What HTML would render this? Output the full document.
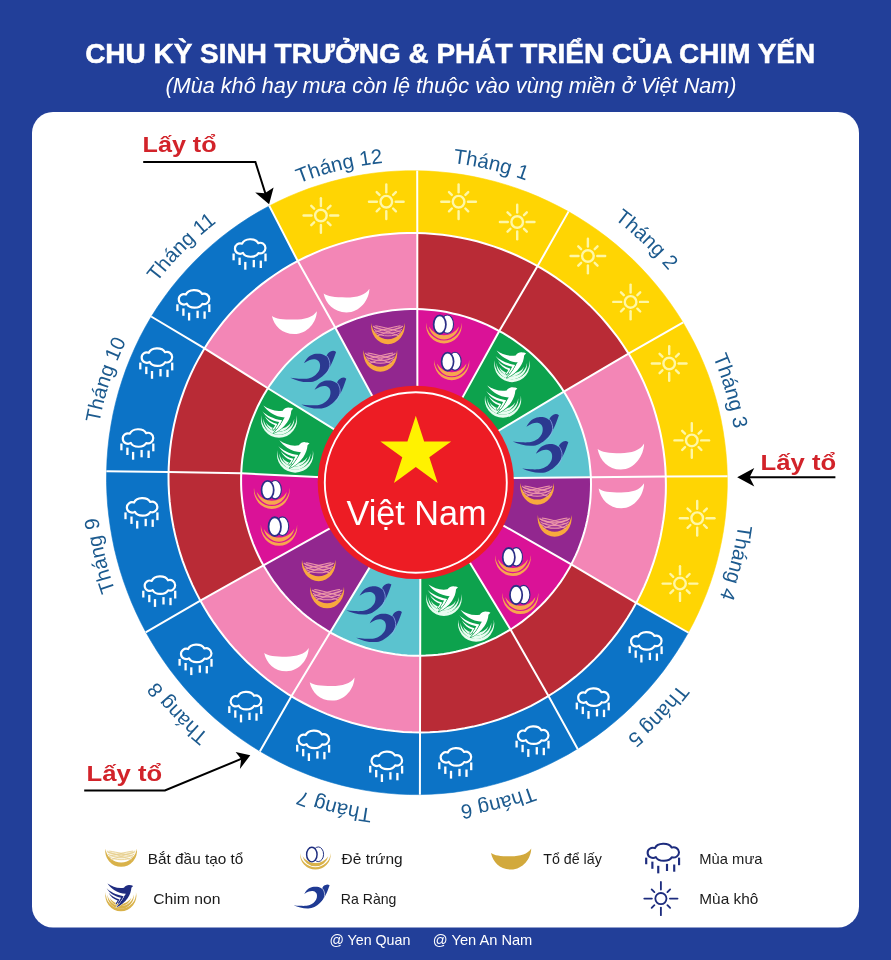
<!DOCTYPE html>
<html lang="vi"><head><meta charset="utf-8"><title>Chu kỳ sinh trưởng &amp; phát triển của chim yến</title>
<style>html,body{margin:0;padding:0;background:#223f99;}body{width:891px;height:960px;overflow:hidden;}svg{display:block;}</style>
</head><body>
<svg width="891" height="960" viewBox="0 0 891 960">
<rect width="891" height="960" fill="#223f99"/>
<rect x="32" y="112" width="827" height="815.5" rx="21" ry="21" fill="#ffffff"/>
<text x="85.2" y="63.3" font-family="'Liberation Sans', sans-serif" font-weight="700" font-size="27" fill="#fff" stroke="#fff" stroke-width="0.5" textLength="730" lengthAdjust="spacingAndGlyphs">CHU KỲ SINH TRƯỞNG &amp; PHÁT TRIỂN CỦA CHIM YẾN</text>
<text x="165.5" y="93" font-family="'Liberation Sans', sans-serif" font-style="italic" font-size="21.5" fill="#fff" textLength="571" lengthAdjust="spacingAndGlyphs">(Mùa khô hay mưa còn lệ thuộc vào vùng miền ở Việt Nam)</text>
<path d="M416.5,170.7 L427.4,171.1 L438.3,171.8 L449.2,172.8 L460.0,174.3 L470.8,176.1 L481.5,178.3 L492.1,180.8 L502.6,183.8 L513.0,187.0 L523.3,190.7 L533.5,194.6 L543.5,199.0 L553.3,203.6 L563.0,208.6 L572.5,214.0 L581.9,219.6 L591.0,225.6 L599.9,231.9 L608.6,238.4 L617.0,245.3 L625.2,252.5 L633.2,259.9 L640.9,267.7 L648.3,275.7 L655.4,283.9 L662.3,292.4 L668.8,301.1 L675.1,310.1 L681.0,319.2 L686.6,328.6 L691.8,338.1 L696.7,347.9 L701.3,357.8 L705.5,367.9 L709.4,378.1 L712.9,388.4 L716.0,398.9 L718.7,409.4 L721.1,420.1 L723.1,430.8 L724.7,441.6 L726.0,452.4 L726.8,463.3 L727.3,474.2 L727.3,485.1 L727.0,496.0 L726.3,506.9 L725.2,517.8 L723.8,528.6 L721.9,539.3 L719.7,550.0 L717.1,560.6 L714.2,571.1 L710.9,581.5 L707.2,591.7 L703.1,601.9 L698.8,611.9 L694.0,621.7 L689.0,631.3 L683.6,640.8 L677.9,650.1 L671.8,659.2 L665.5,668.0 L658.9,676.7 L651.9,685.1 L644.7,693.2 L637.2,701.2 L629.4,708.8 L621.4,716.2 L613.1,723.3 L604.6,730.1 L595.8,736.6 L586.8,742.8 L577.6,748.7 L568.2,754.3 L558.6,759.5 L548.8,764.4 L538.9,768.9 L528.8,773.1 L518.5,777.0 L508.2,780.4 L497.7,783.5 L487.1,786.3 L476.4,788.6 L465.6,790.6 L454.7,792.1 L443.9,793.3 L432.9,794.1 L422.0,794.5 L411.0,794.5 L400.1,794.2 L389.1,793.4 L378.2,792.2 L367.4,790.6 L356.6,788.7 L345.9,786.3 L335.3,783.6 L324.8,780.5 L314.5,777.0 L304.2,773.1 L294.1,768.9 L284.2,764.3 L274.4,759.4 L264.9,754.1 L255.5,748.5 L246.3,742.6 L237.4,736.3 L228.7,729.8 L220.2,722.9 L212.0,715.8 L204.0,708.4 L196.3,700.7 L188.9,692.7 L181.7,684.5 L174.9,676.1 L168.3,667.4 L162.0,658.5 L156.1,649.5 L150.5,640.2 L145.1,630.7 L140.1,621.1 L135.5,611.3 L131.1,601.3 L127.1,591.2 L123.5,581.0 L120.2,570.7 L117.2,560.2 L114.6,549.7 L112.4,539.1 L110.5,528.4 L109.0,517.6 L107.8,506.8 L107.0,496.0 L106.6,485.1 L106.5,474.2 L106.9,463.4 L107.6,452.5 L108.6,441.6 L110.1,430.8 L111.9,420.1 L114.1,409.4 L116.7,398.8 L119.6,388.2 L122.9,377.8 L126.6,367.5 L130.7,357.3 L135.1,347.3 L139.8,337.4 L145.0,327.7 L150.4,318.2 L156.2,308.9 L162.4,299.8 L168.9,290.9 L175.7,282.3 L182.8,273.9 L190.2,265.8 L197.9,258.0 L205.9,250.4 L214.1,243.1 L222.6,236.2 L231.4,229.5 L240.4,223.2 L249.6,217.2 L259.1,211.5 L268.7,206.2 L278.5,201.3 L288.5,196.7 L298.6,192.4 L308.9,188.6 L319.3,185.1 L329.8,182.0 L340.5,179.2 L351.2,176.9 L362.0,174.9 L372.8,173.3 L383.7,172.1 L394.6,171.3 L405.6,170.8 Z" fill="#fff" stroke="#fff" stroke-width="0.8"/>
<path d="M417.2,170.8 L428.5,171.1 L439.8,171.9 L451.1,173.1 L462.3,174.6 L473.4,176.6 L484.5,179.0 L495.5,181.7 L506.3,184.9 L517.1,188.4 L527.7,192.3 L538.1,196.6 L548.4,201.3 L558.5,206.3 L568.5,211.6 L537.6,266.1 L529.7,261.8 L521.7,257.8 L513.5,254.1 L505.2,250.6 L496.8,247.5 L488.2,244.6 L479.6,242.1 L470.9,239.8 L462.1,237.9 L453.2,236.3 L444.3,235.0 L435.3,234.0 L426.3,233.3 L417.3,233.0 Z" fill="#ffd503" stroke="#ffd503" stroke-width="0.6"/>
<path d="M417.3,233.0 L426.3,233.3 L435.3,234.0 L444.3,235.0 L453.2,236.3 L462.1,237.9 L470.9,239.8 L479.6,242.1 L488.2,244.6 L496.8,247.5 L505.2,250.6 L513.5,254.1 L521.7,257.8 L529.7,261.8 L537.6,266.1 L499.3,331.0 L493.9,328.2 L488.4,325.5 L482.8,323.0 L477.1,320.8 L471.4,318.7 L465.6,316.8 L459.7,315.1 L453.7,313.6 L447.7,312.3 L441.7,311.3 L435.6,310.4 L429.6,309.7 L423.4,309.3 L417.3,309.1 Z" fill="#b92b36" stroke="#b92b36" stroke-width="0.6"/>
<path d="M417.3,309.1 L423.4,309.3 L429.6,309.7 L435.6,310.4 L441.7,311.3 L447.7,312.3 L453.7,313.6 L459.7,315.1 L465.6,316.8 L471.4,318.7 L477.1,320.8 L482.8,323.0 L488.4,325.5 L493.9,328.2 L499.3,331.0 L461.7,398.9 L458.6,397.2 L455.4,395.7 L452.1,394.3 L448.8,393.0 L445.4,391.9 L442.0,390.9 L438.5,390.0 L435.1,389.2 L431.6,388.6 L428.0,388.1 L424.5,387.7 L420.9,387.5 L417.4,387.4 Z" fill="#da1297" stroke="#da1297" stroke-width="0.6"/>
<path d="M568.5,211.6 L578.4,217.5 L588.1,223.7 L597.6,230.2 L606.8,237.1 L615.8,244.3 L624.4,251.8 L632.9,259.6 L641.0,267.8 L648.8,276.2 L656.3,285.0 L663.5,293.9 L670.3,303.2 L676.8,312.7 L683.0,322.4 L628.5,353.6 L623.6,345.9 L618.4,338.4 L612.9,331.1 L607.2,324.0 L601.2,317.2 L595.0,310.5 L588.5,304.1 L581.9,297.9 L575.0,292.0 L567.9,286.3 L560.6,280.8 L553.1,275.6 L545.4,270.7 L537.6,266.1 Z" fill="#ffd503" stroke="#ffd503" stroke-width="0.6"/>
<path d="M537.6,266.1 L545.4,270.7 L553.1,275.6 L560.6,280.8 L567.9,286.3 L575.0,292.0 L581.9,297.9 L588.5,304.1 L595.0,310.5 L601.2,317.2 L607.2,324.0 L612.9,331.1 L618.4,338.4 L623.6,345.9 L628.5,353.6 L563.9,391.6 L560.4,386.3 L556.7,381.1 L552.8,376.0 L548.7,371.1 L544.4,366.3 L540.0,361.7 L535.4,357.2 L530.7,352.9 L525.8,348.8 L520.7,344.9 L515.6,341.1 L510.3,337.6 L504.8,334.2 L499.3,331.0 Z" fill="#b92b36" stroke="#b92b36" stroke-width="0.6"/>
<path d="M499.3,331.0 L504.8,334.2 L510.3,337.6 L515.6,341.1 L520.7,344.9 L525.8,348.8 L530.7,352.9 L535.4,357.2 L540.0,361.7 L544.4,366.3 L548.7,371.1 L552.8,376.0 L556.7,381.1 L560.4,386.3 L563.9,391.6 L496.9,431.7 L495.0,428.8 L493.0,426.0 L490.8,423.2 L488.6,420.6 L486.3,418.0 L483.9,415.5 L481.4,413.0 L478.8,410.7 L476.2,408.5 L473.4,406.3 L470.6,404.3 L467.7,402.4 L464.8,400.6 L461.7,398.9 Z" fill="#0da24d" stroke="#0da24d" stroke-width="0.6"/>
<path d="M683.0,322.4 L688.7,332.5 L694.2,342.7 L699.2,353.1 L703.8,363.7 L708.1,374.5 L711.9,385.4 L715.3,396.4 L718.3,407.6 L720.9,418.9 L723.0,430.3 L724.7,441.7 L726.0,453.2 L726.9,464.7 L727.3,476.3 L665.8,476.6 L665.3,467.3 L664.4,458.0 L663.3,448.8 L661.7,439.6 L659.9,430.5 L657.7,421.5 L655.1,412.5 L652.3,403.7 L649.1,395.0 L645.6,386.4 L641.8,378.0 L637.6,369.7 L633.2,361.5 L628.5,353.6 Z" fill="#ffd503" stroke="#ffd503" stroke-width="0.6"/>
<path d="M628.5,353.6 L633.2,361.5 L637.6,369.7 L641.8,378.0 L645.6,386.4 L649.1,395.0 L652.3,403.7 L655.1,412.5 L657.7,421.5 L659.9,430.5 L661.7,439.6 L663.3,448.8 L664.4,458.0 L665.3,467.3 L665.8,476.6 L590.8,477.2 L590.4,470.7 L589.8,464.2 L588.9,457.8 L587.8,451.4 L586.4,445.1 L584.8,438.8 L582.9,432.6 L580.9,426.4 L578.6,420.4 L576.1,414.4 L573.3,408.6 L570.4,402.8 L567.3,397.2 L563.9,391.6 Z" fill="#f386b6" stroke="#f386b6" stroke-width="0.6"/>
<path d="M563.9,391.6 L567.3,397.2 L570.4,402.8 L573.3,408.6 L576.1,414.4 L578.6,420.4 L580.9,426.4 L582.9,432.6 L584.8,438.8 L586.4,445.1 L587.8,451.4 L588.9,457.8 L589.8,464.2 L590.4,470.7 L590.8,477.2 L511.4,478.0 L511.2,474.5 L510.8,471.0 L510.3,467.6 L509.7,464.1 L509.0,460.7 L508.1,457.3 L507.1,453.9 L506.0,450.6 L504.8,447.3 L503.4,444.1 L502.0,440.9 L500.4,437.8 L498.7,434.7 L496.9,431.7 Z" fill="#5bc3cf" stroke="#5bc3cf" stroke-width="0.6"/>
<path d="M727.3,476.3 L727.3,487.2 L726.9,498.0 L726.1,508.9 L725.0,519.7 L723.5,530.4 L721.6,541.1 L719.3,551.8 L716.7,562.3 L713.7,572.7 L710.3,583.1 L706.6,593.3 L702.5,603.3 L698.1,613.2 L693.4,623.0 L688.3,632.6 L636.1,603.0 L640.2,595.2 L643.9,587.2 L647.4,579.2 L650.6,571.0 L653.4,562.7 L656.0,554.4 L658.3,545.9 L660.3,537.4 L662.0,528.8 L663.4,520.2 L664.5,511.5 L665.3,502.8 L665.7,494.0 L665.9,485.3 L665.8,476.6 Z" fill="#ffd503" stroke="#ffd503" stroke-width="0.6"/>
<path d="M665.8,476.6 L665.9,485.3 L665.7,494.0 L665.3,502.8 L664.5,511.5 L663.4,520.2 L662.0,528.8 L660.3,537.4 L658.3,545.9 L656.0,554.4 L653.4,562.7 L650.6,571.0 L647.4,579.2 L643.9,587.2 L640.2,595.2 L636.1,603.0 L571.3,564.3 L574.2,558.5 L576.9,552.6 L579.3,546.7 L581.6,540.6 L583.6,534.5 L585.3,528.3 L586.9,522.0 L588.2,515.7 L589.2,509.3 L590.0,502.9 L590.6,496.5 L590.9,490.1 L591.0,483.6 L590.8,477.2 Z" fill="#f386b6" stroke="#f386b6" stroke-width="0.6"/>
<path d="M590.8,477.2 L591.0,483.6 L590.9,490.1 L590.6,496.5 L590.0,502.9 L589.2,509.3 L588.2,515.7 L586.9,522.0 L585.3,528.3 L583.6,534.5 L581.6,540.6 L579.3,546.7 L576.9,552.6 L574.2,558.5 L571.3,564.3 L501.6,524.5 L503.1,521.4 L504.5,518.3 L505.7,515.1 L506.8,511.8 L507.8,508.6 L508.7,505.2 L509.5,501.9 L510.1,498.5 L510.6,495.1 L511.0,491.7 L511.3,488.3 L511.5,484.9 L511.5,481.4 L511.4,478.0 Z" fill="#92278f" stroke="#92278f" stroke-width="0.6"/>
<path d="M688.3,632.6 L682.5,642.6 L676.3,652.4 L669.8,662.0 L663.0,671.4 L655.8,680.4 L648.3,689.3 L640.4,697.8 L632.3,706.0 L623.8,714.0 L615.1,721.6 L606.1,728.9 L596.8,735.9 L587.3,742.5 L577.5,748.7 L548.5,696.0 L556.3,691.0 L563.8,685.7 L571.2,680.1 L578.4,674.3 L585.3,668.2 L592.0,661.8 L598.5,655.2 L604.7,648.4 L610.6,641.3 L616.3,634.0 L621.7,626.5 L626.8,618.9 L631.6,611.0 L636.1,603.0 Z" fill="#0c73c6" stroke="#0c73c6" stroke-width="0.6"/>
<path d="M636.1,603.0 L631.6,611.0 L626.8,618.9 L621.7,626.5 L616.3,634.0 L610.6,641.3 L604.7,648.4 L598.5,655.2 L592.0,661.8 L585.3,668.2 L578.4,674.3 L571.2,680.1 L563.8,685.7 L556.3,691.0 L548.5,696.0 L510.5,629.5 L515.9,626.0 L521.2,622.3 L526.3,618.4 L531.3,614.3 L536.1,610.0 L540.7,605.6 L545.2,601.0 L549.5,596.2 L553.6,591.2 L557.6,586.1 L561.3,580.8 L564.8,575.5 L568.2,569.9 L571.3,564.3 Z" fill="#b92b36" stroke="#b92b36" stroke-width="0.6"/>
<path d="M571.3,564.3 L568.2,569.9 L564.8,575.5 L561.3,580.8 L557.6,586.1 L553.6,591.2 L549.5,596.2 L545.2,601.0 L540.7,605.6 L536.1,610.0 L531.3,614.3 L526.3,618.4 L521.2,622.3 L515.9,626.0 L510.5,629.5 L469.2,561.4 L472.1,559.4 L475.0,557.3 L477.7,555.1 L480.4,552.7 L483.0,550.3 L485.5,547.7 L487.8,545.1 L490.1,542.4 L492.3,539.6 L494.4,536.7 L496.4,533.8 L498.3,530.8 L500.0,527.7 L501.6,524.5 Z" fill="#da1297" stroke="#da1297" stroke-width="0.6"/>
<path d="M577.5,748.7 L568.0,754.4 L558.3,759.6 L548.4,764.6 L538.3,769.2 L528.1,773.4 L517.7,777.3 L507.2,780.7 L496.6,783.8 L485.8,786.6 L475.0,788.9 L464.1,790.8 L453.1,792.4 L442.1,793.5 L431.0,794.2 L419.9,794.6 L420.0,732.4 L429.0,732.3 L438.0,731.8 L447.0,731.0 L455.9,729.8 L464.8,728.3 L473.6,726.5 L482.4,724.4 L491.1,721.9 L499.6,719.1 L508.1,716.0 L516.5,712.6 L524.7,708.9 L532.8,704.9 L540.7,700.6 L548.5,696.0 Z" fill="#0c73c6" stroke="#0c73c6" stroke-width="0.6"/>
<path d="M548.5,696.0 L540.7,700.6 L532.8,704.9 L524.7,708.9 L516.5,712.6 L508.1,716.0 L499.6,719.1 L491.1,721.9 L482.4,724.4 L473.6,726.5 L464.8,728.3 L455.9,729.8 L447.0,731.0 L438.0,731.8 L429.0,732.3 L420.0,732.4 L420.2,655.7 L426.5,655.6 L432.8,655.2 L439.1,654.5 L445.4,653.7 L451.7,652.6 L457.9,651.3 L464.0,649.7 L470.1,647.9 L476.1,646.0 L482.1,643.8 L488.0,641.3 L493.8,638.7 L499.5,635.8 L505.0,632.8 L510.5,629.5 Z" fill="#b92b36" stroke="#b92b36" stroke-width="0.6"/>
<path d="M510.5,629.5 L505.0,632.8 L499.5,635.8 L493.8,638.7 L488.0,641.3 L482.1,643.8 L476.1,646.0 L470.1,647.9 L464.0,649.7 L457.9,651.3 L451.7,652.6 L445.4,653.7 L439.1,654.5 L432.8,655.2 L426.5,655.6 L420.2,655.7 L420.3,577.3 L423.8,577.1 L427.2,576.8 L430.7,576.3 L434.1,575.8 L437.5,575.0 L440.9,574.2 L444.2,573.3 L447.5,572.2 L450.8,571.0 L454.0,569.7 L457.1,568.3 L460.2,566.7 L463.3,565.1 L466.3,563.3 L469.2,561.4 Z" fill="#0da24d" stroke="#0da24d" stroke-width="0.6"/>
<path d="M419.9,794.6 L408.7,794.5 L397.5,794.0 L386.4,793.1 L375.2,791.8 L364.2,790.1 L353.2,787.9 L342.3,785.4 L331.5,782.5 L320.8,779.2 L310.2,775.4 L299.8,771.3 L289.6,766.9 L279.5,762.0 L269.7,756.8 L260.0,751.2 L291.4,696.2 L299.2,700.7 L307.1,704.9 L315.1,708.9 L323.3,712.6 L331.7,716.0 L340.1,719.1 L348.7,721.8 L357.4,724.3 L366.2,726.4 L375.0,728.3 L383.9,729.8 L392.9,730.9 L401.9,731.8 L411.0,732.3 L420.0,732.4 Z" fill="#0c73c6" stroke="#0c73c6" stroke-width="0.6"/>
<path d="M420.0,732.4 L411.0,732.3 L401.9,731.8 L392.9,730.9 L383.9,729.8 L375.0,728.3 L366.2,726.4 L357.4,724.3 L348.7,721.8 L340.1,719.1 L331.7,716.0 L323.3,712.6 L315.1,708.9 L307.1,704.9 L299.2,700.7 L291.4,696.2 L330.2,632.3 L335.7,635.3 L341.3,638.2 L347.0,640.8 L352.8,643.2 L358.6,645.4 L364.6,647.4 L370.6,649.2 L376.6,650.8 L382.8,652.1 L388.9,653.3 L395.1,654.2 L401.4,654.9 L407.6,655.4 L413.9,655.7 L420.2,655.7 Z" fill="#f386b6" stroke="#f386b6" stroke-width="0.6"/>
<path d="M420.2,655.7 L413.9,655.7 L407.6,655.4 L401.4,654.9 L395.1,654.2 L388.9,653.3 L382.8,652.1 L376.6,650.8 L370.6,649.2 L364.6,647.4 L358.6,645.4 L352.8,643.2 L347.0,640.8 L341.3,638.2 L335.7,635.3 L330.2,632.3 L370.7,565.6 L373.8,567.2 L376.9,568.7 L380.0,570.1 L383.2,571.4 L386.5,572.5 L389.7,573.6 L393.1,574.5 L396.4,575.2 L399.8,575.9 L403.2,576.5 L406.6,576.9 L410.0,577.2 L413.5,577.4 L416.9,577.4 L420.3,577.3 Z" fill="#5bc3cf" stroke="#5bc3cf" stroke-width="0.6"/>
<path d="M260.0,751.2 L250.5,745.3 L241.3,739.1 L232.3,732.5 L223.5,725.6 L215.0,718.5 L206.8,711.0 L198.8,703.2 L191.1,695.2 L183.7,686.9 L176.6,678.3 L169.8,669.5 L163.4,660.5 L157.2,651.2 L151.4,641.8 L145.9,632.2 L200.4,600.7 L204.8,608.4 L209.5,616.0 L214.4,623.4 L219.6,630.6 L225.0,637.6 L230.6,644.5 L236.5,651.1 L242.7,657.5 L249.0,663.8 L255.6,669.8 L262.4,675.5 L269.3,681.1 L276.5,686.3 L283.9,691.4 L291.4,696.2 Z" fill="#0c73c6" stroke="#0c73c6" stroke-width="0.6"/>
<path d="M291.4,696.2 L283.9,691.4 L276.5,686.3 L269.3,681.1 L262.4,675.5 L255.6,669.8 L249.0,663.8 L242.7,657.5 L236.5,651.1 L230.6,644.5 L225.0,637.6 L219.6,630.6 L214.4,623.4 L209.5,616.0 L204.8,608.4 L200.4,600.7 L263.4,565.3 L266.7,570.8 L270.1,576.2 L273.7,581.5 L277.6,586.6 L281.6,591.6 L285.7,596.4 L290.1,601.1 L294.6,605.6 L299.2,610.0 L304.1,614.2 L309.0,618.2 L314.1,622.0 L319.3,625.6 L324.7,629.1 L330.2,632.3 Z" fill="#f386b6" stroke="#f386b6" stroke-width="0.6"/>
<path d="M330.2,632.3 L324.7,629.1 L319.3,625.6 L314.1,622.0 L309.0,618.2 L304.1,614.2 L299.2,610.0 L294.6,605.6 L290.1,601.1 L285.7,596.4 L281.6,591.6 L277.6,586.6 L273.7,581.5 L270.1,576.2 L266.7,570.8 L263.4,565.3 L332.6,527.0 L334.3,530.0 L336.1,532.9 L337.9,535.8 L339.9,538.6 L342.0,541.4 L344.2,544.0 L346.5,546.6 L348.8,549.1 L351.3,551.5 L353.8,553.8 L356.5,556.0 L359.2,558.2 L362.0,560.2 L364.8,562.1 L367.7,563.9 L370.7,565.6 Z" fill="#92278f" stroke="#92278f" stroke-width="0.6"/>
<path d="M145.9,632.2 L140.7,622.3 L135.9,612.2 L131.4,602.0 L127.3,591.6 L123.5,581.1 L120.1,570.5 L117.1,559.8 L114.4,548.9 L112.2,538.0 L110.3,527.0 L108.8,515.9 L107.6,504.8 L106.9,493.7 L106.5,482.5 L106.6,471.3 L168.5,472.0 L168.5,480.9 L168.8,489.9 L169.4,498.9 L170.4,507.8 L171.6,516.6 L173.1,525.5 L175.0,534.2 L177.1,542.9 L179.6,551.5 L182.3,560.0 L185.4,568.4 L188.7,576.7 L192.3,584.8 L196.2,592.8 L200.4,600.7 Z" fill="#0c73c6" stroke="#0c73c6" stroke-width="0.6"/>
<path d="M200.4,600.7 L196.2,592.8 L192.3,584.8 L188.7,576.7 L185.4,568.4 L182.3,560.0 L179.6,551.5 L177.1,542.9 L175.0,534.2 L173.1,525.5 L171.6,516.6 L170.4,507.8 L169.4,498.9 L168.8,489.9 L168.5,480.9 L168.5,472.0 L241.2,473.3 L241.0,479.7 L241.1,486.1 L241.5,492.5 L242.1,498.9 L242.9,505.3 L243.9,511.6 L245.2,517.8 L246.7,524.0 L248.5,530.2 L250.4,536.3 L252.6,542.3 L255.0,548.2 L257.6,554.0 L260.4,559.7 L263.4,565.3 Z" fill="#b92b36" stroke="#b92b36" stroke-width="0.6"/>
<path d="M263.4,565.3 L260.4,559.7 L257.6,554.0 L255.0,548.2 L252.6,542.3 L250.4,536.3 L248.5,530.2 L246.7,524.0 L245.2,517.8 L243.9,511.6 L242.9,505.3 L242.1,498.9 L241.5,492.5 L241.1,486.1 L241.0,479.7 L241.2,473.3 L321.6,477.2 L321.5,480.6 L321.5,484.1 L321.6,487.5 L321.9,490.9 L322.3,494.4 L322.8,497.8 L323.4,501.2 L324.1,504.5 L325.0,507.8 L326.0,511.1 L327.1,514.4 L328.3,517.6 L329.6,520.8 L331.1,523.9 L332.6,527.0 Z" fill="#da1297" stroke="#da1297" stroke-width="0.6"/>
<path d="M106.6,471.3 L107.0,459.7 L107.9,448.2 L109.2,436.6 L111.0,425.1 L113.1,413.7 L115.7,402.4 L118.7,391.2 L122.2,380.1 L126.0,369.1 L130.3,358.2 L135.0,347.5 L140.0,337.0 L145.5,326.7 L151.4,316.6 L204.5,348.4 L199.8,356.5 L195.4,364.7 L191.3,373.1 L187.5,381.6 L184.1,390.3 L181.0,399.1 L178.2,408.0 L175.8,416.9 L173.8,426.0 L172.0,435.1 L170.6,444.3 L169.6,453.5 L168.9,462.7 L168.5,472.0 Z" fill="#0c73c6" stroke="#0c73c6" stroke-width="0.6"/>
<path d="M168.5,472.0 L168.9,462.7 L169.6,453.5 L170.6,444.3 L172.0,435.1 L173.8,426.0 L175.8,416.9 L178.2,408.0 L181.0,399.1 L184.1,390.3 L187.5,381.6 L191.3,373.1 L195.4,364.7 L199.8,356.5 L204.5,348.4 L267.9,388.2 L264.5,393.7 L261.4,399.3 L258.4,405.1 L255.7,410.9 L253.2,416.9 L250.9,422.9 L248.9,429.0 L247.0,435.2 L245.5,441.5 L244.1,447.8 L243.0,454.1 L242.2,460.5 L241.6,466.9 L241.2,473.3 Z" fill="#b92b36" stroke="#b92b36" stroke-width="0.6"/>
<path d="M241.2,473.3 L241.6,466.9 L242.2,460.5 L243.0,454.1 L244.1,447.8 L245.5,441.5 L247.0,435.2 L248.9,429.0 L250.9,422.9 L253.2,416.9 L255.7,410.9 L258.4,405.1 L261.4,399.3 L264.5,393.7 L267.9,388.2 L336.6,430.9 L334.8,433.9 L333.1,437.0 L331.4,440.1 L329.9,443.3 L328.5,446.5 L327.3,449.8 L326.1,453.1 L325.1,456.5 L324.2,459.8 L323.4,463.3 L322.8,466.7 L322.3,470.2 L321.9,473.7 L321.6,477.2 Z" fill="#0da24d" stroke="#0da24d" stroke-width="0.6"/>
<path d="M151.4,316.6 L157.6,306.8 L164.3,297.2 L171.3,287.8 L178.7,278.7 L186.4,269.9 L194.4,261.4 L202.8,253.3 L211.5,245.4 L220.4,237.9 L229.7,230.8 L239.2,224.0 L249.0,217.6 L259.1,211.5 L269.3,205.9 L297.7,261.1 L289.6,265.5 L281.7,270.3 L274.0,275.3 L266.5,280.7 L259.1,286.3 L252.0,292.3 L245.2,298.5 L238.6,304.9 L232.2,311.6 L226.1,318.5 L220.3,325.7 L214.7,333.1 L209.4,340.6 L204.5,348.4 Z" fill="#0c73c6" stroke="#0c73c6" stroke-width="0.6"/>
<path d="M204.5,348.4 L209.4,340.6 L214.7,333.1 L220.3,325.7 L226.1,318.5 L232.2,311.6 L238.6,304.9 L245.2,298.5 L252.0,292.3 L259.1,286.3 L266.5,280.7 L274.0,275.3 L281.7,270.3 L289.6,265.5 L297.7,261.1 L335.2,327.6 L329.4,330.6 L323.8,333.9 L318.2,337.4 L312.8,341.1 L307.6,344.9 L302.5,349.0 L297.5,353.3 L292.7,357.8 L288.1,362.5 L283.7,367.3 L279.4,372.3 L275.4,377.5 L271.5,382.8 L267.9,388.2 Z" fill="#f386b6" stroke="#f386b6" stroke-width="0.6"/>
<path d="M267.9,388.2 L271.5,382.8 L275.4,377.5 L279.4,372.3 L283.7,367.3 L288.1,362.5 L292.7,357.8 L297.5,353.3 L302.5,349.0 L307.6,344.9 L312.8,341.1 L318.2,337.4 L323.8,333.9 L329.4,330.6 L335.2,327.6 L373.2,397.8 L370.3,399.4 L367.4,401.1 L364.6,402.8 L361.9,404.7 L359.2,406.7 L356.5,408.7 L354.0,410.9 L351.5,413.1 L349.1,415.4 L346.8,417.8 L344.6,420.3 L342.5,422.8 L340.4,425.5 L338.5,428.2 L336.6,430.9 Z" fill="#5bc3cf" stroke="#5bc3cf" stroke-width="0.6"/>
<path d="M269.3,205.9 L279.1,201.0 L289.1,196.4 L299.3,192.2 L309.6,188.3 L320.0,184.9 L330.5,181.8 L341.2,179.1 L351.9,176.7 L362.7,174.8 L373.5,173.2 L384.4,172.0 L395.3,171.2 L406.3,170.8 L417.2,170.8 L417.3,233.0 L408.5,232.9 L399.6,233.2 L390.8,233.8 L382.0,234.8 L373.2,236.0 L364.5,237.6 L355.8,239.4 L347.2,241.6 L338.7,244.1 L330.3,246.9 L322.0,250.0 L313.8,253.4 L305.7,257.1 L297.7,261.1 Z" fill="#ffd503" stroke="#ffd503" stroke-width="0.6"/>
<path d="M297.7,261.1 L305.7,257.1 L313.8,253.4 L322.0,250.0 L330.3,246.9 L338.7,244.1 L347.2,241.6 L355.8,239.4 L364.5,237.6 L373.2,236.0 L382.0,234.8 L390.8,233.8 L399.6,233.2 L408.5,232.9 L417.3,233.0 L417.3,309.1 L410.8,309.0 L404.3,309.3 L397.8,309.7 L391.3,310.5 L384.8,311.4 L378.4,312.6 L372.0,314.0 L365.7,315.7 L359.4,317.6 L353.2,319.8 L347.1,322.1 L341.1,324.7 L335.2,327.6 Z" fill="#f386b6" stroke="#f386b6" stroke-width="0.6"/>
<path d="M335.2,327.6 L341.1,324.7 L347.1,322.1 L353.2,319.8 L359.4,317.6 L365.7,315.7 L372.0,314.0 L378.4,312.6 L384.8,311.4 L391.3,310.5 L397.8,309.7 L404.3,309.3 L410.8,309.0 L417.3,309.1 L417.4,387.4 L413.9,387.4 L410.3,387.6 L406.8,387.9 L403.3,388.3 L399.9,388.9 L396.4,389.6 L393.0,390.4 L389.6,391.3 L386.2,392.4 L382.9,393.5 L379.6,394.8 L376.4,396.3 L373.2,397.8 Z" fill="#92278f" stroke="#92278f" stroke-width="0.6"/>
<path d="M416.5,233.0 L425.2,233.3 L434.0,233.9 L442.7,234.8 L451.3,236.0 L459.9,237.5 L468.5,239.3 L477.0,241.3 L485.3,243.7 L493.6,246.4 L501.8,249.3 L509.9,252.5 L517.9,256.0 L525.8,259.8 L533.5,263.8 L541.1,268.1 L548.5,272.6 L555.7,277.4 L562.8,282.5 L569.8,287.7 L576.5,293.2 L583.0,299.0 L589.4,304.9 L595.5,311.1 L601.4,317.4 L607.1,324.0 L612.6,330.8 L617.9,337.7 L622.8,344.8 L627.6,352.1 L632.1,359.6 L636.3,367.2 L640.3,375.0 L644.0,382.9 L647.4,390.9 L650.6,399.0 L653.5,407.2 L656.0,415.6 L658.3,424.0 L660.3,432.5 L662.0,441.1 L663.4,449.7 L664.5,458.4 L665.3,467.1 L665.7,475.8 L665.9,484.6 L665.8,493.3 L665.3,502.1 L664.6,510.8 L663.5,519.5 L662.1,528.2 L660.5,536.8 L658.5,545.3 L656.2,553.8 L653.6,562.2 L650.7,570.5 L647.6,578.7 L644.1,586.8 L640.4,594.7 L636.4,602.6 L632.1,610.2 L627.5,617.8 L622.7,625.1 L617.6,632.3 L612.2,639.3 L606.6,646.1 L600.8,652.7 L594.7,659.1 L588.4,665.2 L581.9,671.2 L575.2,676.9 L568.3,682.4 L561.2,687.6 L553.9,692.5 L546.5,697.2 L538.8,701.6 L531.1,705.8 L523.1,709.6 L515.1,713.2 L506.9,716.5 L498.6,719.5 L490.2,722.1 L481.8,724.5 L473.2,726.6 L464.6,728.3 L455.9,729.8 L447.2,730.9 L438.4,731.7 L429.7,732.2 L420.9,732.4 L412.1,732.3 L403.4,731.9 L394.6,731.1 L385.9,730.0 L377.3,728.7 L368.7,727.0 L360.2,725.0 L351.7,722.7 L343.4,720.1 L335.1,717.3 L327.0,714.1 L319.0,710.7 L311.1,707.0 L303.4,703.0 L295.8,698.8 L288.3,694.3 L281.1,689.5 L274.0,684.5 L267.0,679.3 L260.3,673.8 L253.8,668.1 L247.4,662.2 L241.3,656.1 L235.3,649.8 L229.6,643.3 L224.2,636.6 L218.9,629.7 L213.9,622.7 L209.1,615.4 L204.6,608.1 L200.3,600.6 L196.3,592.9 L192.5,585.1 L189.0,577.2 L185.7,569.2 L182.7,561.1 L180.0,552.9 L177.6,544.5 L175.4,536.1 L173.6,527.7 L172.0,519.1 L170.7,510.6 L169.7,501.9 L169.0,493.3 L168.6,484.6 L168.5,475.9 L168.7,467.2 L169.2,458.5 L170.0,449.8 L171.1,441.1 L172.5,432.5 L174.2,423.9 L176.2,415.4 L178.5,406.9 L181.2,398.6 L184.1,390.3 L187.3,382.1 L190.8,374.1 L194.6,366.1 L198.7,358.4 L203.1,350.7 L207.7,343.2 L212.7,335.9 L217.9,328.8 L223.3,321.9 L229.0,315.2 L234.9,308.6 L241.1,302.3 L247.5,296.3 L254.2,290.5 L261.0,284.9 L268.0,279.6 L275.3,274.5 L282.7,269.7 L290.2,265.2 L298.0,260.9 L305.8,257.0 L313.9,253.3 L322.0,249.9 L330.3,246.9 L338.6,244.1 L347.1,241.6 L355.6,239.5 L364.2,237.6 L372.8,236.1 L381.5,234.8 L390.2,233.9 L399.0,233.3 L407.7,233.0 Z" fill="none" stroke="#fff" stroke-width="2"/>
<path d="M416.5,309.0 L422.6,309.2 L428.6,309.7 L434.7,310.3 L440.7,311.1 L446.7,312.1 L452.6,313.4 L458.5,314.8 L464.4,316.4 L470.2,318.3 L475.9,320.3 L481.5,322.5 L487.1,324.9 L492.5,327.5 L497.9,330.3 L503.2,333.2 L508.4,336.4 L513.5,339.7 L518.4,343.2 L523.2,346.8 L528.0,350.6 L532.5,354.6 L537.0,358.7 L541.3,363.0 L545.4,367.4 L549.4,372.0 L553.3,376.7 L557.0,381.5 L560.5,386.4 L563.8,391.5 L567.0,396.7 L570.0,402.0 L572.8,407.4 L575.4,412.9 L577.8,418.5 L580.0,424.1 L582.1,429.9 L583.9,435.7 L585.5,441.6 L586.9,447.5 L588.2,453.5 L589.2,459.5 L589.9,465.6 L590.5,471.7 L590.9,477.8 L591.0,483.9 L590.9,490.1 L590.6,496.2 L590.1,502.3 L589.3,508.4 L588.4,514.4 L587.2,520.5 L585.8,526.4 L584.2,532.4 L582.4,538.2 L580.3,544.0 L578.1,549.8 L575.7,555.4 L573.0,560.9 L570.2,566.4 L567.1,571.7 L563.9,577.0 L560.5,582.1 L556.9,587.0 L553.1,591.9 L549.1,596.6 L545.0,601.2 L540.7,605.6 L536.3,609.8 L531.7,613.9 L527.0,617.8 L522.2,621.6 L517.2,625.1 L512.1,628.5 L506.8,631.7 L501.5,634.7 L496.1,637.6 L490.5,640.2 L484.9,642.6 L479.2,644.8 L473.5,646.9 L467.6,648.7 L461.8,650.3 L455.8,651.7 L449.8,652.9 L443.8,653.9 L437.8,654.7 L431.7,655.2 L425.6,655.6 L419.5,655.7 L413.5,655.7 L407.4,655.4 L401.3,654.9 L395.3,654.2 L389.3,653.3 L383.3,652.3 L377.4,650.9 L371.5,649.4 L365.6,647.7 L359.9,645.8 L354.2,643.7 L348.6,641.5 L343.0,639.0 L337.6,636.3 L332.2,633.5 L326.9,630.4 L321.8,627.2 L316.7,623.8 L311.8,620.3 L307.0,616.6 L302.3,612.7 L297.8,608.6 L293.4,604.4 L289.1,600.1 L285.0,595.6 L281.0,591.0 L277.3,586.2 L273.6,581.3 L270.2,576.3 L266.9,571.1 L263.8,565.9 L260.8,560.5 L258.1,555.0 L255.6,549.5 L253.2,543.8 L251.1,538.1 L249.1,532.3 L247.4,526.4 L245.8,520.5 L244.5,514.5 L243.4,508.4 L242.5,502.3 L241.8,496.2 L241.3,490.1 L241.1,483.9 L241.1,477.8 L241.3,471.6 L241.7,465.5 L242.3,459.3 L243.2,453.2 L244.3,447.2 L245.5,441.1 L247.1,435.1 L248.8,429.2 L250.7,423.3 L252.9,417.6 L255.3,411.9 L257.8,406.2 L260.6,400.7 L263.6,395.3 L266.8,390.0 L270.1,384.8 L273.7,379.8 L277.4,374.8 L281.3,370.1 L285.3,365.4 L289.6,360.9 L294.0,356.6 L298.5,352.4 L303.2,348.4 L308.0,344.6 L313.0,341.0 L318.1,337.5 L323.3,334.2 L328.6,331.1 L334.0,328.2 L339.5,325.5 L345.1,323.0 L350.8,320.7 L356.5,318.6 L362.3,316.7 L368.2,315.0 L374.1,313.5 L380.1,312.3 L386.1,311.2 L392.2,310.3 L398.2,309.7 L404.3,309.3 L410.4,309.1 Z" fill="none" stroke="#fff" stroke-width="2"/>
<polyline points="417.38,387.40 417.30,309.06 417.30,232.97 417.20,170.45" fill="none" stroke="#fff" stroke-width="2"/>
<polyline points="461.73,398.86 499.29,331.02 537.57,266.10 568.63,211.38" fill="none" stroke="#fff" stroke-width="2"/>
<polyline points="496.87,431.75 563.90,391.65 628.48,353.56 683.21,322.29" fill="none" stroke="#fff" stroke-width="2"/>
<polyline points="511.40,478.02 590.83,477.18 665.76,476.57 727.60,476.29" fill="none" stroke="#fff" stroke-width="2"/>
<polyline points="501.65,524.53 571.29,564.29 636.14,602.95 688.55,632.75" fill="none" stroke="#fff" stroke-width="2"/>
<polyline points="469.20,561.44 510.50,629.51 548.49,695.97 577.68,748.99" fill="none" stroke="#fff" stroke-width="2"/>
<polyline points="420.33,577.32 420.20,655.74 420.01,732.44 419.91,794.86" fill="none" stroke="#fff" stroke-width="2"/>
<polyline points="370.71,565.64 330.18,632.33 291.40,696.15 259.82,751.50" fill="none" stroke="#fff" stroke-width="2"/>
<polyline points="332.61,526.98 263.43,565.28 200.38,600.74 145.66,632.30" fill="none" stroke="#fff" stroke-width="2"/>
<polyline points="321.64,477.19 241.18,473.32 168.55,471.96 106.29,471.28" fill="none" stroke="#fff" stroke-width="2"/>
<polyline points="336.64,430.95 267.89,388.23 204.48,348.42 151.14,316.49" fill="none" stroke="#fff" stroke-width="2"/>
<polyline points="373.25,397.82 335.20,327.58 297.73,261.06 269.17,205.64" fill="none" stroke="#fff" stroke-width="2"/>
<ellipse cx="415.8" cy="482.4" rx="98.1" ry="96.7" fill="#ed1c24"/>
<ellipse cx="415.8" cy="482.5" rx="91" ry="90.3" fill="none" stroke="#fff" stroke-width="1.9"/>
<polygon points="415.80,415.70 424.15,441.40 451.18,441.40 429.31,457.29 437.67,483.00 415.80,467.11 393.93,483.00 402.29,457.29 380.42,441.40 407.45,441.40" fill="#fff200"/>
<text x="346.5" y="525.2" font-family="'Liberation Sans', sans-serif" font-size="34.5" fill="#fff" textLength="140" lengthAdjust="spacingAndGlyphs">Việt Nam</text>
<defs><g id="sunW"><g fill="none" stroke="#fff7a6" stroke-width="2.4" stroke-linecap="round"><circle r="5.8"/><line x1="0.00" y1="-9.40" x2="0.00" y2="-17.30"/><line x1="6.79" y1="-6.79" x2="9.62" y2="-9.62"/><line x1="9.40" y1="-0.00" x2="17.30" y2="-0.00"/><line x1="6.79" y1="6.79" x2="9.62" y2="9.62"/><line x1="0.00" y1="9.40" x2="0.00" y2="17.30"/><line x1="-6.79" y1="6.79" x2="-9.62" y2="9.62"/><line x1="-9.40" y1="0.00" x2="-17.30" y2="0.00"/><line x1="-6.79" y1="-6.79" x2="-9.62" y2="-9.62"/></g></g><g id="sunB"><g fill="none" stroke="#1d2c7e" stroke-width="1.9" stroke-linecap="round"><circle r="5.8"/><line x1="0.00" y1="-9.40" x2="0.00" y2="-17.30"/><line x1="6.79" y1="-6.79" x2="9.62" y2="-9.62"/><line x1="9.40" y1="-0.00" x2="17.30" y2="-0.00"/><line x1="6.79" y1="6.79" x2="9.62" y2="9.62"/><line x1="0.00" y1="9.40" x2="0.00" y2="17.30"/><line x1="-6.79" y1="6.79" x2="-9.62" y2="9.62"/><line x1="-9.40" y1="0.00" x2="-17.30" y2="0.00"/><line x1="-6.79" y1="-6.79" x2="-9.62" y2="-9.62"/></g></g><g id="cloudW"><path d="M-8.2,-4.6 A8.6,6.2 0 0 1 8,-5.2 A5.3,5.3 0 1 1 8.2,4.8 A8.2,5.6 0 0 1 -7.3,4.6 A5.2,5.2 0 1 1 -8.2,-4.6 Z" fill="none" stroke="#ffffff" stroke-width="2.2" stroke-linejoin="round"/><g stroke="#ffffff" stroke-width="2.3000000000000003" fill="none"><line x1="-16.7" y1="5.2" x2="-16.7" y2="12.0"/><line x1="-10.7" y1="9.3" x2="-10.7" y2="16.7"/><line x1="-5.0" y1="13.6" x2="-5.0" y2="21.4"/><line x1="3.5" y1="11.6" x2="3.5" y2="19.0"/><line x1="10.5" y1="12.3" x2="10.5" y2="19.7"/><line x1="15.2" y1="5.2" x2="15.2" y2="13.0"/></g></g><g id="cloudB"><path d="M-8.2,-4.6 A8.6,6.2 0 0 1 8,-5.2 A5.3,5.3 0 1 1 8.2,4.8 A8.2,5.6 0 0 1 -7.3,4.6 A5.2,5.2 0 1 1 -8.2,-4.6 Z" fill="none" stroke="#1d2c7e" stroke-width="2.0" stroke-linejoin="round"/><g stroke="#1d2c7e" stroke-width="2.1" fill="none"><line x1="-16.7" y1="5.2" x2="-16.7" y2="12.0"/><line x1="-10.7" y1="9.3" x2="-10.7" y2="16.7"/><line x1="-5.0" y1="13.6" x2="-5.0" y2="21.4"/><line x1="3.5" y1="11.6" x2="3.5" y2="19.0"/><line x1="10.5" y1="12.3" x2="10.5" y2="19.7"/><line x1="15.2" y1="5.2" x2="15.2" y2="13.0"/></g></g><path id="bowlW" d="M0,5.4 C4,8.6 11,9.6 23,9.6 C34,9.6 42.5,7 46.5,0 C46.4,12 37,26 23.2,26 C10.5,26 2.2,16.5 0,5.4 Z" fill="#fff"/><path id="bowlG" d="M0,5.4 C4,8.6 11,9.6 23,9.6 C34,9.6 42.5,7 46.5,0 C46.4,12 37,26 23.2,26 C10.5,26 2.2,16.5 0,5.4 Z" fill="#d2a93c"/><g id="nestO"><path d="M1.2,1.5 C8,5 25,5 31.8,1.5 A16.6,16.6 0 0 1 1.2,1.5 Z" fill="#e884bd" opacity="0.22"/><path d="M0,0 A16.7,16.7 0 1 0 33,0 A16.6,16.6 0 0 1 0,0 Z" fill="#f8a93c"/><g fill="none" stroke="#ee98a8" stroke-width="0.9"><path d="M1.6,3 C8,7.6 25,7.6 31.4,3"/><path d="M2.6,5.8 C9,10.3 24,10.5 30.4,5.8"/><path d="M4.4,8.8 C10,12.6 23,12.8 28.6,8.8"/><path d="M2.4,3.6 C10,5.5 22,10 27.5,12"/><path d="M30.6,3.6 C23,5.5 11,10 5.5,12"/><path d="M4,2.6 C12,3.6 24,7 30.4,8.4"/><path d="M29,2.6 C21,3.6 9,7 2.6,8.4"/></g></g><g id="nestG"><path d="M1.2,1.5 C8,5 25,5 31.8,1.5 A16.6,16.6 0 0 1 1.2,1.5 Z" fill="#f3e7c2" opacity="0.6"/><path d="M0,0 A16.7,16.7 0 1 0 33,0 A16.6,16.6 0 0 1 0,0 Z" fill="#d9b24a"/><g fill="none" stroke="#e6cf8e" stroke-width="0.9"><path d="M1.6,3 C8,7.6 25,7.6 31.4,3"/><path d="M2.6,5.8 C9,10.3 24,10.5 30.4,5.8"/><path d="M4.4,8.8 C10,12.6 23,12.8 28.6,8.8"/><path d="M2.4,3.6 C10,5.5 22,10 27.5,12"/><path d="M30.6,3.6 C23,5.5 11,10 5.5,12"/><path d="M4,2.6 C12,3.6 24,7 30.4,8.4"/><path d="M29,2.6 C21,3.6 9,7 2.6,8.4"/></g></g><g id="eggsO"><path d="M0,0 A17.62,17.62 0 1 0 35,0 A17.51,17.51 0 0 1 0,0 Z" fill="#f7a64e"/><path d="M2.7,3.75 A15.1,15.1 0 0 0 32.3,3.75 A17.4,17.4 0 0 1 2.7,3.75 Z" fill="#f7a64e"/><ellipse cx="20.8" cy="1.5" rx="6.1" ry="8.7" fill="#fff" stroke="#2b2f86" stroke-width="1.1"/><ellipse cx="13.4" cy="1.8" rx="6.0" ry="8.7" fill="#fff" stroke="#2b2f86" stroke-width="1.7"/></g><g id="eggsG"><path d="M0,0 A17.62,17.62 0 1 0 35,0 A17.51,17.51 0 0 1 0,0 Z" fill="#d9b24a"/><path d="M2.7,3.75 A15.1,15.1 0 0 0 32.3,3.75 A17.4,17.4 0 0 1 2.7,3.75 Z" fill="#d9b24a"/><ellipse cx="20.8" cy="1.5" rx="6.1" ry="8.7" fill="#fff" stroke="#1d2c7e" stroke-width="1.1"/><ellipse cx="13.4" cy="1.8" rx="6.0" ry="8.7" fill="#fff" stroke="#1d2c7e" stroke-width="1.7"/></g><g id="chickW"><g fill="#eafcf1"><path d="M0.5,10 A18,18 0 1 0 35.5,10 A17.575,17.575 0 1 1 0.5,10 Z"/><path d="M2.4,13 A15.38,15.38 0 1 0 33.1,13 A15.51,15.51 0 0 1 2.4,13 Z"/><path d="M4.8,16.8 A13.2,13.2 0 0 0 30.2,16.8 A15.26,15.26 0 0 1 4.8,16.8 Z"/></g><g fill="#ffffff" stroke="#0da24d" stroke-width="1.1" paint-order="stroke" stroke-linejoin="round"><path d="M2.4,0.3 C8,4 14,6.5 21.6,5.3 C23,3.2 25.5,2 27.5,2.1 C29.5,2.2 31,2.6 32.2,3.2 L30.2,5.3 C30,9 28.5,13.5 26,17 C22.5,22 18,25.5 12.5,27.8 C16,24 19,20 21,16.5 C22.5,14 23.5,12.6 23.7,12.2 C19,12 14,10.2 10.1,7.7 C7,5.6 4.4,3 2.4,0.3 Z"/><path d="M1.4,5.8 C5,9.5 12,13.5 21.1,14.9 C19.5,18.5 17.5,21.5 15.2,24 L14.2,22.6 C15.8,20.6 17.2,18.6 18.2,16.6 C11,15.5 5,11.5 1.4,5.8 Z"/><path d="M3.8,11 C7,14.5 11,17.5 16.4,18.6 C15.3,20.8 14,22.8 12.6,24.6 L11.8,23.4 C12.8,22.2 13.6,21 14.2,19.9 C9.8,18.6 6,15.4 3.8,11 Z"/></g></g><g id="chickB"><g fill="#d9b24a"><path d="M0.5,10 A18,18 0 1 0 35.5,10 A17.575,17.575 0 1 1 0.5,10 Z"/><path d="M2.4,13 A15.38,15.38 0 1 0 33.1,13 A15.51,15.51 0 0 1 2.4,13 Z"/><path d="M4.8,16.8 A13.2,13.2 0 0 0 30.2,16.8 A15.26,15.26 0 0 1 4.8,16.8 Z"/></g><g fill="#1f2c80" stroke="#ffffff" stroke-width="1.1" paint-order="stroke" stroke-linejoin="round"><path d="M2.4,0.3 C8,4 14,6.5 21.6,5.3 C23,3.2 25.5,2 27.5,2.1 C29.5,2.2 31,2.6 32.2,3.2 L30.2,5.3 C30,9 28.5,13.5 26,17 C22.5,22 18,25.5 12.5,27.8 C16,24 19,20 21,16.5 C22.5,14 23.5,12.6 23.7,12.2 C19,12 14,10.2 10.1,7.7 C7,5.6 4.4,3 2.4,0.3 Z"/><path d="M1.4,5.8 C5,9.5 12,13.5 21.1,14.9 C19.5,18.5 17.5,21.5 15.2,24 L14.2,22.6 C15.8,20.6 17.2,18.6 18.2,16.6 C11,15.5 5,11.5 1.4,5.8 Z"/><path d="M3.8,11 C7,14.5 11,17.5 16.4,18.6 C15.3,20.8 14,22.8 12.6,24.6 L11.8,23.4 C12.8,22.2 13.6,21 14.2,19.9 C9.8,18.6 6,15.4 3.8,11 Z"/></g></g><g id="birdB"><path d="M13.7,12.6 C15.5,9.5 17,7.3 18.9,5.9 C21,4.3 23.4,3.4 25.9,3.1 C28,2.9 30.2,3 32.2,3.5 C33.8,4 35.3,4.8 36.5,5.9 C36.6,5.5 36.7,5.1 36.9,4.7 C37.5,3.4 38.3,2.3 39.3,1.6 C40.5,0.7 41.8,0.1 43.2,0 C44.3,0 45.4,0.5 46.3,1.2 C45.3,4.2 44.3,7 43.2,9.8 C42.1,12.6 40.8,15.3 39.3,17.7 C37.8,20.3 36,22.7 33.8,24.7 C31.7,26.8 29.3,28.6 26.7,29.9 C24.3,31.1 21.6,31.8 18.9,31.8 C15.4,31.9 11.9,31.5 8.6,30.6 C5.6,29.9 2.7,28.8 0,27.5 C2.9,28 5.7,28.3 8.6,28.3 C11.3,28.5 14,28.5 16.5,28.3 C18.8,28 21,27.3 22.8,26.3 C24.7,25.3 26.3,24 27.5,22.4 C28.7,21 29.5,19.4 29.8,17.7 C30.2,15.8 30.2,13.8 29.5,12.2 C28.8,10.6 27.5,9.5 25.9,9.0 C23.9,8.4 21.7,8.7 19.6,9.4 C17.6,10.2 15.6,11.3 13.7,12.6 Z" fill="#2b3990"/><path d="M36.9,5.1 C38,6.5 38.8,8.1 39.3,9.8 C40,11.9 40.2,14 39.8,16.1 C39.5,17.8 38.9,19.4 38.1,20.8 C37.3,22.3 36.4,23.7 35.3,25.1" fill="none" stroke="#8fb0ea" stroke-width="0.75"/></g><g id="birdL"><path d="M13.7,12.6 C15.5,9.5 17,7.3 18.9,5.9 C21,4.3 23.4,3.4 25.9,3.1 C28,2.9 30.2,3 32.2,3.5 C33.8,4 35.3,4.8 36.5,5.9 C36.6,5.5 36.7,5.1 36.9,4.7 C37.5,3.4 38.3,2.3 39.3,1.6 C40.5,0.7 41.8,0.1 43.2,0 C44.3,0 45.4,0.5 46.3,1.2 C45.3,4.2 44.3,7 43.2,9.8 C42.1,12.6 40.8,15.3 39.3,17.7 C37.8,20.3 36,22.7 33.8,24.7 C31.7,26.8 29.3,28.6 26.7,29.9 C24.3,31.1 21.6,31.8 18.9,31.8 C15.4,31.9 11.9,31.5 8.6,30.6 C5.6,29.9 2.7,28.8 0,27.5 C2.9,28 5.7,28.3 8.6,28.3 C11.3,28.5 14,28.5 16.5,28.3 C18.8,28 21,27.3 22.8,26.3 C24.7,25.3 26.3,24 27.5,22.4 C28.7,21 29.5,19.4 29.8,17.7 C30.2,15.8 30.2,13.8 29.5,12.2 C28.8,10.6 27.5,9.5 25.9,9.0 C23.9,8.4 21.7,8.7 19.6,9.4 C17.6,10.2 15.6,11.3 13.7,12.6 Z" fill="#1f3a93"/><path d="M36.9,5.1 C38,6.5 38.8,8.1 39.3,9.8 C40,11.9 40.2,14 39.8,16.1 C39.5,17.8 38.9,19.4 38.1,20.8 C37.3,22.3 36.4,23.7 35.3,25.1" fill="none" stroke="#ffffff" stroke-width="0.8"/></g></defs>
<use href="#sunW" x="320.9" y="215.5"/>
<use href="#sunW" x="386.3" y="201.7"/>
<use href="#sunW" x="458.6" y="201.7"/>
<use href="#sunW" x="517.2" y="222.0"/>
<use href="#sunW" x="587.9" y="256.0"/>
<use href="#sunW" x="630.6" y="301.9"/>
<use href="#sunW" x="669.2" y="363.5"/>
<use href="#sunW" x="691.8" y="440.4"/>
<use href="#sunW" x="697.2" y="518.2"/>
<use href="#sunW" x="680.0" y="583.6"/>
<use href="#cloudW" x="646.4" y="641.1"/>
<use href="#cloudW" x="593.5" y="697.4"/>
<use href="#cloudW" x="533.3" y="735.5"/>
<use href="#cloudW" x="456.0" y="757.2"/>
<use href="#cloudW" x="386.9" y="760.6"/>
<use href="#cloudW" x="313.9" y="739.6"/>
<use href="#cloudW" x="246.0" y="701.0"/>
<use href="#cloudW" x="196.3" y="653.7"/>
<use href="#cloudW" x="160.0" y="585.5"/>
<use href="#cloudW" x="142.2" y="507.2"/>
<use href="#cloudW" x="138.1" y="438.3"/>
<use href="#cloudW" x="157.0" y="357.4"/>
<use href="#cloudW" x="194.1" y="299.1"/>
<use href="#cloudW" x="250.3" y="248.3"/>
<use href="#bowlW" x="597.6" y="443.6"/>
<use href="#bowlW" transform="translate(598.6,483.2) scale(0.978,0.962)"/>
<use href="#bowlW" transform="translate(271.9,311.2) scale(0.966,0.877)"/>
<use href="#bowlW" transform="translate(323.6,288.7) scale(0.985,0.912)"/>
<use href="#bowlW" transform="translate(264.2,648.1) scale(0.957,0.892)"/>
<use href="#bowlW" transform="translate(309.7,677.4) scale(0.963,0.892)"/>
<use href="#nestO" transform="translate(371.3,322.9) scale(1.009,1.110)"/>
<use href="#nestO" transform="translate(363.5,350.1) scale(1.018,1.120)"/>
<use href="#nestO" transform="translate(520.4,483.1) scale(1.015,1.117)"/>
<use href="#nestO" transform="translate(537.8,515.1) scale(1.021,1.123)"/>
<use href="#nestO" transform="translate(302.0,559.8) scale(1.012,1.113)"/>
<use href="#nestO" transform="translate(310.3,586.7) scale(1.021,1.123)"/>
<use href="#eggsO" transform="translate(426.1,322.6) scale(1.020,1.061)"/>
<use href="#eggsO" transform="translate(434.2,359.7) scale(1.000,1.040)"/>
<use href="#eggsO" transform="translate(495.2,555.3) scale(1.014,1.055)"/>
<use href="#eggsO" transform="translate(502.4,593.1) scale(1.023,1.064)"/>
<use href="#eggsO" transform="translate(254.0,488.1) scale(1.017,1.058)"/>
<use href="#eggsO" transform="translate(260.9,524.7) scale(1.034,1.076)"/>
<use href="#chickW" transform="translate(494.2,350.2) scale(0.992,0.992)"/>
<use href="#chickW" transform="translate(484.8,385.2) scale(1.011,1.011)"/>
<use href="#chickW" transform="translate(426.1,584.1) scale(0.992,0.992)"/>
<use href="#chickW" transform="translate(458.0,609.4) scale(1.008,1.008)"/>
<use href="#chickW" transform="translate(260.9,405.3) scale(1.006,1.006)"/>
<use href="#chickW" transform="translate(276.9,440.0) scale(1.014,1.014)"/>
<use href="#birdB" transform="translate(512.8,414.1) scale(0.996,0.996)"/>
<use href="#birdB" transform="translate(522.2,441.1) scale(0.996,0.996)"/>
<use href="#birdB" transform="translate(346.1,583.4) scale(0.978,0.978)"/>
<use href="#birdB" transform="translate(356.2,610.7) scale(0.987,0.987)"/>
<use href="#birdB" transform="translate(290.4,350.7) scale(0.987,0.987)"/>
<use href="#birdB" transform="translate(301.2,377.6) scale(0.974,0.974)"/>
<path id="lp1" d="M351.03,167.83 A321,321 0 0 1 615.13,230.01" fill="none"/>
<text font-family="'Liberation Sans', sans-serif" font-size="20.5" fill="#1c5a8e"><textPath href="#lp1" startOffset="50%" text-anchor="middle">Tháng 1</textPath></text>
<path id="lp2" d="M520.79,170.10 A329,329 0 0 1 722.51,361.52" fill="none"/>
<text font-family="'Liberation Sans', sans-serif" font-size="20.5" fill="#1c5a8e"><textPath href="#lp2" startOffset="50%" text-anchor="middle">Tháng 2</textPath></text>
<path id="lp3" d="M658.68,270.00 A322,322 0 0 1 734.61,531.36" fill="none"/>
<text font-family="'Liberation Sans', sans-serif" font-size="20.5" fill="#1c5a8e"><textPath href="#lp3" startOffset="50%" text-anchor="middle">Tháng 3</textPath></text>
<path id="lp4" d="M735.15,421.29 A324.5,324.5 0 0 1 667.87,687.19" fill="none"/>
<text font-family="'Liberation Sans', sans-serif" font-size="20.5" fill="#1c5a8e"><textPath href="#lp4" startOffset="50%" text-anchor="middle">Tháng 4</textPath></text>
<path id="lp5" d="M729.37,589.86 A331,331 0 0 1 535.02,791.12" fill="none"/>
<text font-family="'Liberation Sans', sans-serif" font-size="20.5" fill="#1c5a8e"><textPath href="#lp5" startOffset="50%" text-anchor="middle">Tháng 5</textPath></text>
<path id="lp6" d="M622.88,734.37 A326,326 0 0 1 355.87,802.43" fill="none"/>
<text font-family="'Liberation Sans', sans-serif" font-size="20.5" fill="#1c5a8e"><textPath href="#lp6" startOffset="50%" text-anchor="middle">Tháng 6</textPath></text>
<path id="lp7" d="M478.14,805.76 A329.5,329.5 0 0 1 208.15,737.44" fill="none"/>
<text font-family="'Liberation Sans', sans-serif" font-size="20.5" fill="#1c5a8e"><textPath href="#lp7" startOffset="50%" text-anchor="middle">Tháng 7</textPath></text>
<path id="lp8" d="M299.75,787.58 A327,327 0 0 1 107.40,589.10" fill="none"/>
<text font-family="'Liberation Sans', sans-serif" font-size="20.5" fill="#1c5a8e"><textPath href="#lp8" startOffset="50%" text-anchor="middle">Tháng 8</textPath></text>
<path id="lp9" d="M164.58,679.55 A320,320 0 0 1 103.28,416.11" fill="none"/>
<text font-family="'Liberation Sans', sans-serif" font-size="20.5" fill="#1c5a8e"><textPath href="#lp9" startOffset="50%" text-anchor="middle">Tháng 9</textPath></text>
<path id="lp10" d="M96.17,520.29 A322.5,322.5 0 0 1 181.31,261.33" fill="none"/>
<text font-family="'Liberation Sans', sans-serif" font-size="20.5" fill="#1c5a8e"><textPath href="#lp10" startOffset="50%" text-anchor="middle">Tháng 10</textPath></text>
<path id="lp11" d="M108.65,370.09 A327.5,327.5 0 0 1 304.39,174.35" fill="none"/>
<text font-family="'Liberation Sans', sans-serif" font-size="20.5" fill="#1c5a8e"><textPath href="#lp11" startOffset="50%" text-anchor="middle">Tháng 11</textPath></text>
<path id="lp12" d="M215.70,231.58 A321,321 0 0 1 479.30,167.32" fill="none"/>
<text font-family="'Liberation Sans', sans-serif" font-size="20.5" fill="#1c5a8e"><textPath href="#lp12" startOffset="50%" text-anchor="middle">Tháng 12</textPath></text>
<text x="142.6" y="152.4" font-family="'Liberation Sans', sans-serif" font-weight="700" font-size="21.5" fill="#d2232a" textLength="74" lengthAdjust="spacingAndGlyphs">Lấy tổ</text>
<path d="M143.2,162 L255.4,162 L266.5,197" fill="none" stroke="#000" stroke-width="2"/>
<path d="M269.1,204.2 L255.2,192.4 L264.8,193.3 L273.6,187.4 Z" fill="#000"/>
<text x="760.6" y="469.9" font-family="'Liberation Sans', sans-serif" font-weight="700" font-size="22" fill="#d2232a" textLength="75.5" lengthAdjust="spacingAndGlyphs">Lấy tổ</text>
<path d="M835.4,477.2 L746,477.2" fill="none" stroke="#000" stroke-width="2"/>
<path d="M737.2,477.2 L754.3,468 L749.6,477.2 L754.3,486.4 Z" fill="#000"/>
<text x="86.6" y="781" font-family="'Liberation Sans', sans-serif" font-weight="700" font-size="22" fill="#d2232a" textLength="75.5" lengthAdjust="spacingAndGlyphs">Lấy tổ</text>
<path d="M84.2,790.4 L164.9,790.4 L243,758.2" fill="none" stroke="#000" stroke-width="2"/>
<path d="M250.3,755.2 L235.6,752 L241.2,759 L239.9,769 Z" fill="#000"/>
<text x="147.8" y="864.1" font-family="'Liberation Sans', sans-serif" font-size="15" fill="#1a1a1a" textLength="95.5" lengthAdjust="spacingAndGlyphs">Bắt đầu tạo tổ</text>
<text x="153.2" y="903.7" font-family="'Liberation Sans', sans-serif" font-size="15" fill="#1a1a1a" textLength="67.2" lengthAdjust="spacingAndGlyphs">Chim non</text>
<text x="341.6" y="864.1" font-family="'Liberation Sans', sans-serif" font-size="15" fill="#1a1a1a" textLength="61" lengthAdjust="spacingAndGlyphs">Đẻ trứng</text>
<text x="340.8" y="903.7" font-family="'Liberation Sans', sans-serif" font-size="15" fill="#1a1a1a" textLength="55.6" lengthAdjust="spacingAndGlyphs">Ra Ràng</text>
<text x="543.2" y="864.1" font-family="'Liberation Sans', sans-serif" font-size="15" fill="#1a1a1a" textLength="58.6" lengthAdjust="spacingAndGlyphs">Tổ để lấy</text>
<text x="699.3" y="864.1" font-family="'Liberation Sans', sans-serif" font-size="15" fill="#1a1a1a" textLength="63.2" lengthAdjust="spacingAndGlyphs">Mùa mưa</text>
<text x="699.3" y="903.7" font-family="'Liberation Sans', sans-serif" font-size="15" fill="#1a1a1a" textLength="59" lengthAdjust="spacingAndGlyphs">Mùa khô</text>
<use href="#nestG" transform="translate(105.4,848.6) scale(0.952,0.947)"/>
<use href="#chickB" transform="translate(105.4,883.2) scale(0.861,0.870)"/>
<use href="#eggsG" transform="translate(300.2,853.0) scale(0.869,0.843)"/>
<use href="#birdL" transform="translate(293.6,884.4) scale(0.778,0.756)"/>
<use href="#bowlG" transform="translate(491.0,848.6) scale(0.865,0.808)"/>
<use href="#cloudB" transform="translate(663.4,852.6) scale(1.030,0.970)"/>
<use href="#sunB" transform="translate(660.9,898.6) scale(0.960,0.960)"/>
<text x="329.4" y="944.8" font-family="'Liberation Sans', sans-serif" font-size="14.5" fill="#fff" textLength="81" lengthAdjust="spacingAndGlyphs">@ Yen Quan</text>
<text x="432.8" y="944.8" font-family="'Liberation Sans', sans-serif" font-size="14.5" fill="#fff" textLength="99.5" lengthAdjust="spacingAndGlyphs">@ Yen An Nam</text>
</svg>
</body></html>
